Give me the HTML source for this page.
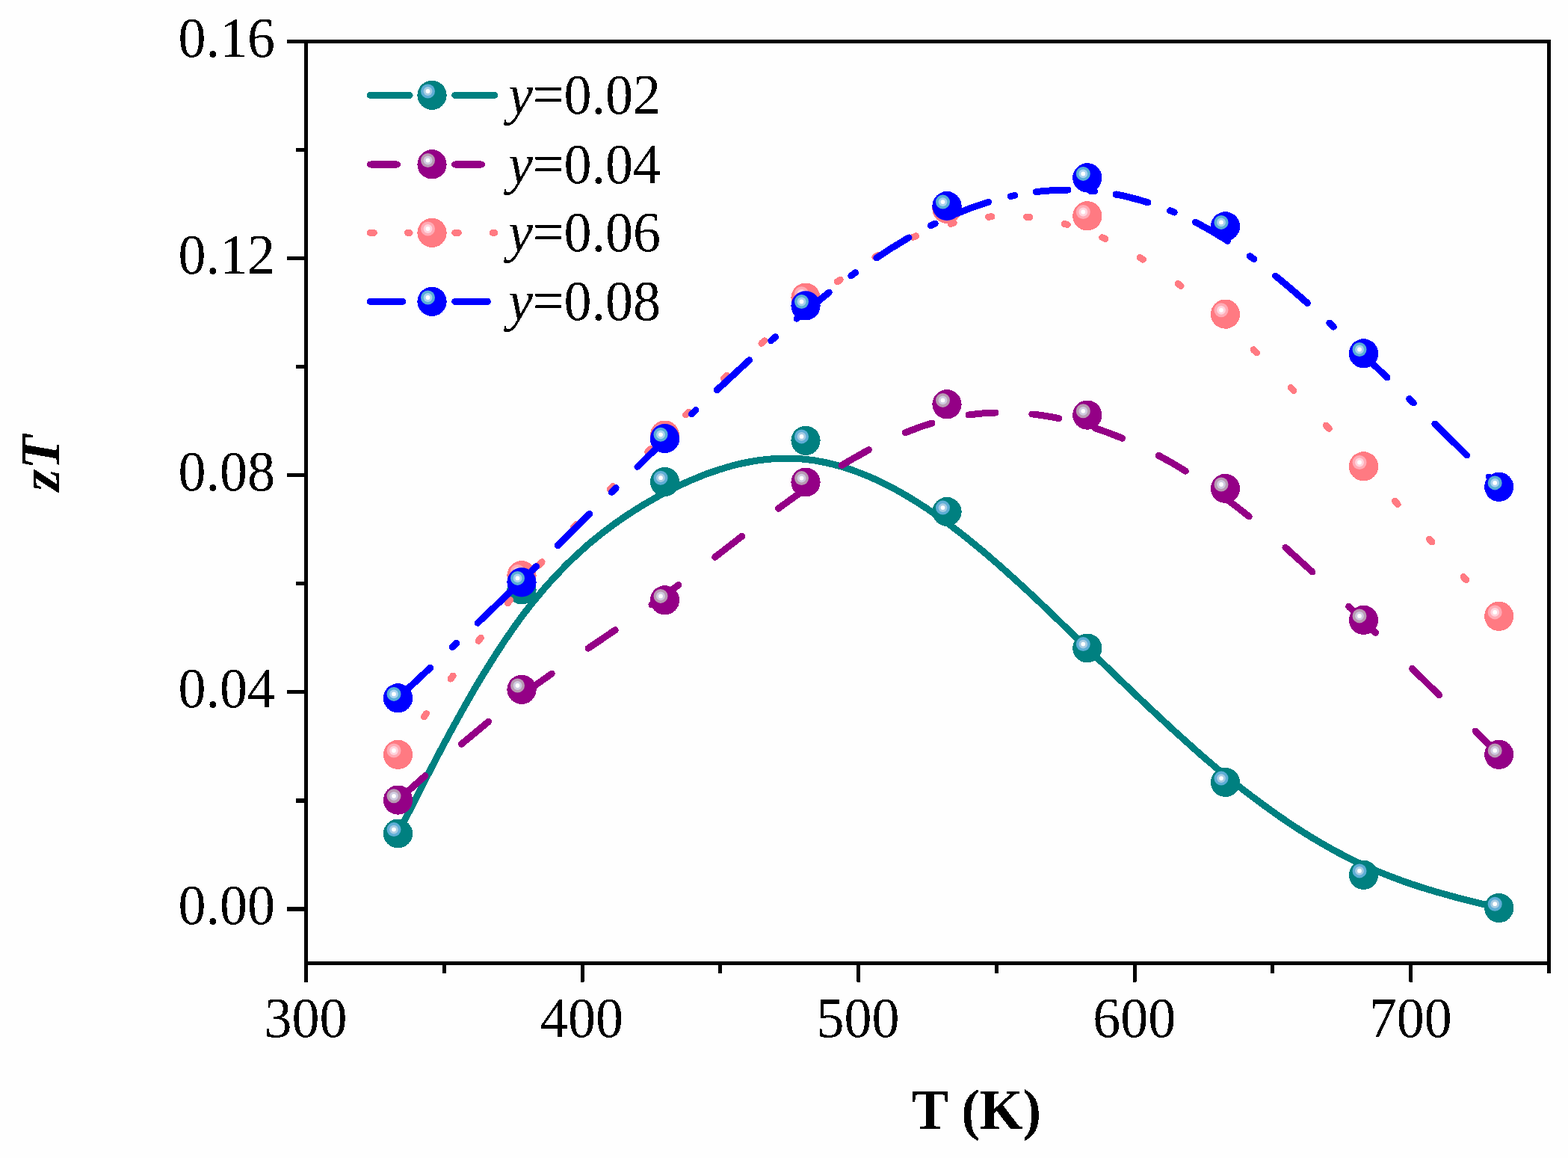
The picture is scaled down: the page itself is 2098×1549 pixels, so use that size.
<!DOCTYPE html>
<html><head><meta charset="utf-8"><title>zT vs T</title>
<style>html,body{margin:0;padding:0;background:#fefefe;overflow:hidden}svg{display:block}</style>
</head><body>
<svg width="2098" height="1549" viewBox="0 0 2098 1549">
<defs><filter id="al" filterUnits="userSpaceOnUse" x="0" y="0" width="2098" height="1549"><feComponentTransfer><feFuncA type="discrete" tableValues="0 1"/></feComponentTransfer></filter></defs>
<rect width="2098" height="1549" fill="#fefefe"/>
<g filter="url(#al)">
<path d="M532.5 1115L577.7 1026.1L591.7 999.3L605.2 974.3L620 947.6L634.2 922.8L648.1 899.6L662 877.5L675.6 856.6L688.7 837.7L701.7 819.9L714.6 803.5L727.9 787.6L741.6 772.3L755.7 757.6L770.2 743.5L787.3 728.1L804.9 713.7L823.2 700L841.8 687.2L861.4 674.9L882 663.1L903.2 652.2L923.8 642.7L943 634.8L962 628.2L980.5 622.7L998.8 618.5L1016.7 615.5L1034.4 613.7L1051.7 613L1060.5 613.2L1069 613.6L1080.6 614.7L1092.2 616.3L1103.9 618.5L1115.8 621.3L1127.8 624.7L1139.8 628.6L1152 633.1L1164.3 638.2L1176.9 643.9L1189.5 650.2L1202.1 656.9L1215 664.4L1228.2 672.5L1241.4 681.1L1254.9 690.4L1268.4 700.2L1290 716.8L1312.6 735.2L1336.4 755.6L1361.7 778.4L1383.3 798.3L1407.6 821.4L1496.4 907.3L1534.4 943.6L1571.8 978.3L1605.4 1008.3L1622.9 1023.3L1640.2 1037.7L1657.1 1051.4L1673.7 1064.3L1690.4 1076.7L1706.7 1088.4L1722.7 1099.5L1738.7 1110L1753.7 1119.4L1768.8 1128.4L1783.5 1136.7L1798.2 1144.5L1812.6 1151.7L1826.9 1158.4L1841.5 1164.8L1856.6 1170.9L1872 1176.7L1888.2 1182.4L1904.5 1187.8L1921.6 1193L1954 1201.9L2005.7 1214.6" fill="none" stroke="#008080" stroke-width="9" stroke-linecap="round" stroke-linejoin="round"/>
<circle cx="532.5" cy="1115" r="19.6" fill="#008080"/><circle cx="527" cy="1109.6" r="9.5" fill="#5eaed6"/><circle cx="527" cy="1109.6" r="5.9" fill="#a8cce3"/><circle cx="527" cy="1109.6" r="2.9" fill="#fff"/>
<circle cx="698" cy="788.8" r="19.6" fill="#008080"/><circle cx="692.5" cy="783.4" r="9.5" fill="#5eaed6"/><circle cx="692.5" cy="783.4" r="5.9" fill="#a8cce3"/><circle cx="692.5" cy="783.4" r="2.9" fill="#fff"/>
<circle cx="889.5" cy="644.6" r="19.6" fill="#008080"/><circle cx="884" cy="639.2" r="9.5" fill="#5eaed6"/><circle cx="884" cy="639.2" r="5.9" fill="#a8cce3"/><circle cx="884" cy="639.2" r="2.9" fill="#fff"/>
<circle cx="1078" cy="589.3" r="19.6" fill="#008080"/><circle cx="1072.5" cy="583.9" r="9.5" fill="#5eaed6"/><circle cx="1072.5" cy="583.9" r="5.9" fill="#a8cce3"/><circle cx="1072.5" cy="583.9" r="2.9" fill="#fff"/>
<circle cx="1267" cy="684.5" r="19.6" fill="#008080"/><circle cx="1261.5" cy="679.1" r="9.5" fill="#5eaed6"/><circle cx="1261.5" cy="679.1" r="5.9" fill="#a8cce3"/><circle cx="1261.5" cy="679.1" r="2.9" fill="#fff"/>
<circle cx="1454.8" cy="867" r="19.6" fill="#008080"/><circle cx="1449.3" cy="861.6" r="9.5" fill="#5eaed6"/><circle cx="1449.3" cy="861.6" r="5.9" fill="#a8cce3"/><circle cx="1449.3" cy="861.6" r="2.9" fill="#fff"/>
<circle cx="1639.5" cy="1046.5" r="19.6" fill="#008080"/><circle cx="1634" cy="1041.1" r="9.5" fill="#5eaed6"/><circle cx="1634" cy="1041.1" r="5.9" fill="#a8cce3"/><circle cx="1634" cy="1041.1" r="2.9" fill="#fff"/>
<circle cx="1824.5" cy="1170.3" r="19.6" fill="#008080"/><circle cx="1819" cy="1164.9" r="9.5" fill="#5eaed6"/><circle cx="1819" cy="1164.9" r="5.9" fill="#a8cce3"/><circle cx="1819" cy="1164.9" r="2.9" fill="#fff"/>
<circle cx="2005.7" cy="1214.6" r="19.6" fill="#008080"/><circle cx="2000.2" cy="1209.2" r="9.5" fill="#5eaed6"/><circle cx="2000.2" cy="1209.2" r="5.9" fill="#a8cce3"/><circle cx="2000.2" cy="1209.2" r="2.9" fill="#fff"/>
<path d="M532.5 1070.2L568.8 1037.8M617.5 995.3L653.6 965.2M702.3 927.1L719.4 914.5L738.2 901.1M787 867.3L823.2 842.7M871.9 808.8L908 782.4M956.6 745.2L992.8 717.2M1041.6 680.2L1060.2 666.6L1077.5 654.4M1126.2 622.5L1144.5 611.7L1162.4 601.7M1211.2 578.7L1229.4 571.7L1247 565.9M1296 555L1313.9 553L1332 551.9M1380.8 553.9L1398.6 556.3L1416.7 559.6M1465.5 572.7L1483.4 579L1501.7 586.2M1550.2 609.3L1568.1 619.2L1586.3 630.1M1634.9 662.9L1652.8 676.4L1671.3 691M1719.9 732.3L1755.9 765M1804.6 811.3L1840.6 846.3M1889.6 894.3L1925.7 929.9M1974.1 977.9L2005.7 1009.3" fill="none" stroke="#940086" stroke-width="9" stroke-linecap="round" stroke-linejoin="round"/>
<circle cx="532.5" cy="1070.2" r="19.6" fill="#940086"/><circle cx="527" cy="1064.8" r="9.5" fill="#b89bb3"/><circle cx="527" cy="1064.8" r="5.9" fill="#cfcce0"/><circle cx="527" cy="1064.8" r="2.9" fill="#fff"/>
<circle cx="698" cy="922.4" r="19.6" fill="#940086"/><circle cx="692.5" cy="917" r="9.5" fill="#b89bb3"/><circle cx="692.5" cy="917" r="5.9" fill="#cfcce0"/><circle cx="692.5" cy="917" r="2.9" fill="#fff"/>
<circle cx="889.5" cy="802.8" r="19.6" fill="#940086"/><circle cx="884" cy="797.4" r="9.5" fill="#b89bb3"/><circle cx="884" cy="797.4" r="5.9" fill="#cfcce0"/><circle cx="884" cy="797.4" r="2.9" fill="#fff"/>
<circle cx="1078" cy="645" r="19.6" fill="#940086"/><circle cx="1072.5" cy="639.6" r="9.5" fill="#b89bb3"/><circle cx="1072.5" cy="639.6" r="5.9" fill="#cfcce0"/><circle cx="1072.5" cy="639.6" r="2.9" fill="#fff"/>
<circle cx="1267" cy="540.8" r="19.6" fill="#940086"/><circle cx="1261.5" cy="535.4" r="9.5" fill="#b89bb3"/><circle cx="1261.5" cy="535.4" r="5.9" fill="#cfcce0"/><circle cx="1261.5" cy="535.4" r="2.9" fill="#fff"/>
<circle cx="1454.8" cy="555.2" r="19.6" fill="#940086"/><circle cx="1449.3" cy="549.8" r="9.5" fill="#b89bb3"/><circle cx="1449.3" cy="549.8" r="5.9" fill="#cfcce0"/><circle cx="1449.3" cy="549.8" r="2.9" fill="#fff"/>
<circle cx="1639.5" cy="653.4" r="19.6" fill="#940086"/><circle cx="1634" cy="648" r="9.5" fill="#b89bb3"/><circle cx="1634" cy="648" r="5.9" fill="#cfcce0"/><circle cx="1634" cy="648" r="2.9" fill="#fff"/>
<circle cx="1824.5" cy="829.3" r="19.6" fill="#940086"/><circle cx="1819" cy="823.9" r="9.5" fill="#b89bb3"/><circle cx="1819" cy="823.9" r="5.9" fill="#cfcce0"/><circle cx="1819" cy="823.9" r="2.9" fill="#fff"/>
<circle cx="2005.7" cy="1009.3" r="19.6" fill="#940086"/><circle cx="2000.2" cy="1003.9" r="9.5" fill="#b89bb3"/><circle cx="2000.2" cy="1003.9" r="5.9" fill="#cfcce0"/><circle cx="2000.2" cy="1003.9" r="2.9" fill="#fff"/>
<path d="M532.5 1009.4L535.6 1004.9M567.5 958.7L570.5 954.4M603.1 908L606.1 903.9M640.3 857.2L643.3 853.3M679.4 806.6L682.6 802.6M721.5 756L725.1 751.8M767.4 705.2L771.2 701.3M816.2 654.7L820.3 650.6M866.8 604.5L870.9 600.5M917.5 555L921.6 551M968.3 506.1L972.4 502.3M1018.9 459.4L1023 455.7M1069.6 415.9L1073.7 412.6M1120.2 377L1124.3 374.1M1170.9 343.8L1175 341.4M1221.6 317.4L1225.6 315.7M1272.1 299.3L1276.2 298.2M1322.6 290.2L1327 289.8M1373.3 290.2L1377.7 290.6M1424.1 299.4L1428.2 300.5M1474.8 317.7L1478.8 319.5M1525.2 344.5L1529.5 347.2M1576.1 379.4L1580.1 382.4M1626.6 420.7L1630.9 424.5M1677.1 467.7L1681.4 471.9M1727 518.3L1731 522.5M1774.3 568.9L1778.3 573.3M1820.5 619.6L1824.2 623.7M1866.4 670.3L1870.2 674.5M1912.3 721L1916 725.1M1958 771.6L1961.9 775.8M2003.7 822.1L2005.7 824.3" fill="none" stroke="#ff7a82" stroke-width="9" stroke-linecap="round" stroke-linejoin="round"/>
<circle cx="532.5" cy="1009.4" r="19.6" fill="#ff7a82"/><circle cx="527" cy="1004" r="9.5" fill="#ffabb5"/><circle cx="527" cy="1004" r="5.9" fill="#ffd5de"/><circle cx="527" cy="1004" r="2.9" fill="#fff"/>
<circle cx="698" cy="769.8" r="19.6" fill="#ff7a82"/><circle cx="692.5" cy="764.4" r="9.5" fill="#ffabb5"/><circle cx="692.5" cy="764.4" r="5.9" fill="#ffd5de"/><circle cx="692.5" cy="764.4" r="2.9" fill="#fff"/>
<circle cx="889.5" cy="582.2" r="19.6" fill="#ff7a82"/><circle cx="884" cy="576.8" r="9.5" fill="#ffabb5"/><circle cx="884" cy="576.8" r="5.9" fill="#ffd5de"/><circle cx="884" cy="576.8" r="2.9" fill="#fff"/>
<circle cx="1078" cy="398.2" r="19.6" fill="#ff7a82"/><circle cx="1072.5" cy="392.8" r="9.5" fill="#ffabb5"/><circle cx="1072.5" cy="392.8" r="5.9" fill="#ffd5de"/><circle cx="1072.5" cy="392.8" r="2.9" fill="#fff"/>
<circle cx="1267" cy="279.4" r="19.6" fill="#ff7a82"/><circle cx="1261.5" cy="274" r="9.5" fill="#ffabb5"/><circle cx="1261.5" cy="274" r="5.9" fill="#ffd5de"/><circle cx="1261.5" cy="274" r="2.9" fill="#fff"/>
<circle cx="1454.8" cy="288.9" r="19.6" fill="#ff7a82"/><circle cx="1449.3" cy="283.5" r="9.5" fill="#ffabb5"/><circle cx="1449.3" cy="283.5" r="5.9" fill="#ffd5de"/><circle cx="1449.3" cy="283.5" r="2.9" fill="#fff"/>
<circle cx="1639.5" cy="420.2" r="19.6" fill="#ff7a82"/><circle cx="1634" cy="414.8" r="9.5" fill="#ffabb5"/><circle cx="1634" cy="414.8" r="5.9" fill="#ffd5de"/><circle cx="1634" cy="414.8" r="2.9" fill="#fff"/>
<circle cx="1824.5" cy="623.9" r="19.6" fill="#ff7a82"/><circle cx="1819" cy="618.5" r="9.5" fill="#ffabb5"/><circle cx="1819" cy="618.5" r="5.9" fill="#ffd5de"/><circle cx="1819" cy="618.5" r="2.9" fill="#fff"/>
<circle cx="2005.7" cy="824.3" r="19.6" fill="#ff7a82"/><circle cx="2000.2" cy="818.9" r="9.5" fill="#ffabb5"/><circle cx="2000.2" cy="818.9" r="5.9" fill="#ffd5de"/><circle cx="2000.2" cy="818.9" r="2.9" fill="#fff"/>
<path d="M532.5 933.8L575.7 893.3M605.2 865.6L610.8 860.3M639.2 833.3L682.3 792M711.9 763.3L717.6 757.7M746.2 729.7L788.9 687.5M818.4 658.4L824.1 652.8M852.9 624.4L895.6 582.6M925.4 553.9L931 548.5M959.4 521.6L1002.6 481.8M1031.8 455.7L1037.5 450.7M1066.1 426.2L1088.2 408.1L1109.2 391.3M1138.8 368.8L1144.5 364.7M1172.8 344.9L1194.5 330.8L1215.9 317.9M1245.4 301.7L1251.1 298.9M1279.7 285.8L1301.3 277.4L1322.6 270.3M1352.1 262.6L1357.7 261.4M1386.1 256.7L1397 255.5L1407.6 254.7L1418.5 254.2L1429.1 254M1458.6 255.3L1464.5 255.8M1493 260L1503.9 262.2L1514.7 264.8L1525.5 267.7L1536 270.9M1565.6 281.7L1571.1 284M1599.5 297.3L1610.3 303L1621.1 309.1L1631.8 315.5L1642.6 322.3M1672.2 342.6L1677.8 346.7M1706.4 368.9L1727.3 386.3L1749.4 405.5M1778.9 432.1L1784.4 437.2M1813.2 464.1L1856 505M1885.6 533.6L1891.3 539.1M1919.8 567L1962.8 609.1M1992.1 637.9L1998.1 643.8" fill="none" stroke="#0000ff" stroke-width="9" stroke-linecap="round" stroke-linejoin="round"/>
<circle cx="532.5" cy="933.8" r="19.6" fill="#0000ff"/><circle cx="527" cy="928.4" r="9.5" fill="#5aaed6"/><circle cx="527" cy="928.4" r="5.9" fill="#aad2ef"/><circle cx="527" cy="928.4" r="2.9" fill="#fff"/>
<circle cx="698" cy="778.8" r="19.6" fill="#0000ff"/><circle cx="692.5" cy="773.4" r="9.5" fill="#5aaed6"/><circle cx="692.5" cy="773.4" r="5.9" fill="#aad2ef"/><circle cx="692.5" cy="773.4" r="2.9" fill="#fff"/>
<circle cx="889.5" cy="586.7" r="19.6" fill="#0000ff"/><circle cx="884" cy="581.3" r="9.5" fill="#5aaed6"/><circle cx="884" cy="581.3" r="5.9" fill="#aad2ef"/><circle cx="884" cy="581.3" r="2.9" fill="#fff"/>
<circle cx="1078" cy="408.9" r="19.6" fill="#0000ff"/><circle cx="1072.5" cy="403.5" r="9.5" fill="#5aaed6"/><circle cx="1072.5" cy="403.5" r="5.9" fill="#aad2ef"/><circle cx="1072.5" cy="403.5" r="2.9" fill="#fff"/>
<circle cx="1267" cy="275.5" r="19.6" fill="#0000ff"/><circle cx="1261.5" cy="270.1" r="9.5" fill="#5aaed6"/><circle cx="1261.5" cy="270.1" r="5.9" fill="#aad2ef"/><circle cx="1261.5" cy="270.1" r="2.9" fill="#fff"/>
<circle cx="1454.8" cy="237.8" r="19.6" fill="#0000ff"/><circle cx="1449.3" cy="232.4" r="9.5" fill="#5aaed6"/><circle cx="1449.3" cy="232.4" r="5.9" fill="#aad2ef"/><circle cx="1449.3" cy="232.4" r="2.9" fill="#fff"/>
<circle cx="1639.5" cy="302.8" r="19.6" fill="#0000ff"/><circle cx="1634" cy="297.4" r="9.5" fill="#5aaed6"/><circle cx="1634" cy="297.4" r="5.9" fill="#aad2ef"/><circle cx="1634" cy="297.4" r="2.9" fill="#fff"/>
<circle cx="1824.5" cy="472.9" r="19.6" fill="#0000ff"/><circle cx="1819" cy="467.5" r="9.5" fill="#5aaed6"/><circle cx="1819" cy="467.5" r="5.9" fill="#aad2ef"/><circle cx="1819" cy="467.5" r="2.9" fill="#fff"/>
<circle cx="2005.7" cy="651.3" r="19.6" fill="#0000ff"/><circle cx="2000.2" cy="645.9" r="9.5" fill="#5aaed6"/><circle cx="2000.2" cy="645.9" r="5.9" fill="#aad2ef"/><circle cx="2000.2" cy="645.9" r="2.9" fill="#fff"/>
<rect x="409.5" y="55.5" width="1663.0" height="1233.0" fill="none" stroke="#000" stroke-width="5"/>
<path d="M384 1215.9H409.5M396 1070.9H409.5M384 925.8H409.5M396 780.8H409.5M384 635.7H409.5M396 490.7H409.5M384 345.6H409.5M396 200.5H409.5M384 55.5H409.5M409.5 1288.5V1313.5M594.3 1288.5V1302M779.1 1288.5V1313.5M963.8 1288.5V1302M1148.6 1288.5V1313.5M1333.4 1288.5V1302M1518.2 1288.5V1313.5M1702.9 1288.5V1302M1887.7 1288.5V1313.5M2072.5 1288.5V1302" stroke="#000" stroke-width="5" fill="none"/>
<g font-family="Liberation Serif, serif" font-size="74" fill="#000"><text transform="translate(368 1236.4) scale(1 1.015)" text-anchor="end">0.00</text><text transform="translate(368 946.3) scale(1 1.015)" text-anchor="end">0.04</text><text transform="translate(368 656.2) scale(1 1.015)" text-anchor="end">0.08</text><text transform="translate(368 366.1) scale(1 1.015)" text-anchor="end">0.12</text><text transform="translate(368 76) scale(1 1.015)" text-anchor="end">0.16</text><text transform="translate(409 1386.7) scale(1 1.04)" text-anchor="middle">300</text><text transform="translate(778.6 1386.7) scale(1 1.04)" text-anchor="middle">400</text><text transform="translate(1148.1 1386.7) scale(1 1.04)" text-anchor="middle">500</text><text transform="translate(1517.7 1386.7) scale(1 1.04)" text-anchor="middle">600</text><text transform="translate(1887.2 1386.7) scale(1 1.04)" text-anchor="middle">700</text></g>
<text transform="translate(1219.7 1509.8) scale(1 1.02)" font-family="Liberation Serif, serif" font-size="74" font-weight="bold">T (K)</text>
<text transform="translate(79 657) rotate(-90)" font-family="Liberation Serif, serif" font-size="75" font-weight="bold" font-style="italic">zT</text>
<path d="M495.3 127.4H548.1M608.6 127.4H661.6" stroke="#008080" stroke-width="9" stroke-linecap="round" fill="none"/>
<circle cx="578" cy="127.4" r="19.6" fill="#008080"/><circle cx="572.5" cy="122" r="9.5" fill="#5eaed6"/><circle cx="572.5" cy="122" r="5.9" fill="#a8cce3"/><circle cx="572.5" cy="122" r="2.9" fill="#fff"/>
<text transform="translate(680 152) scale(1 1.02)" font-family="Liberation Serif, serif" font-size="74"><tspan font-style="italic">y</tspan>=0.02</text>
<path d="M495.3 219.9H531.4M608.6 219.9H644.4" stroke="#940086" stroke-width="9" stroke-linecap="round" fill="none"/>
<circle cx="578" cy="219.9" r="19.6" fill="#940086"/><circle cx="572.5" cy="214.5" r="9.5" fill="#b89bb3"/><circle cx="572.5" cy="214.5" r="5.9" fill="#cfcce0"/><circle cx="572.5" cy="214.5" r="2.9" fill="#fff"/>
<text transform="translate(680 244.5) scale(1 1.02)" font-family="Liberation Serif, serif" font-size="74"><tspan font-style="italic">y</tspan>=0.04</text>
<path d="M495.3 311.4H500.3M545.5 311.4H548.1M608.6 311.4H613.3M659.4 311.4H661.6" stroke="#ff7a82" stroke-width="9" stroke-linecap="round" fill="none"/>
<circle cx="578" cy="311.4" r="19.6" fill="#ff7a82"/><circle cx="572.5" cy="306" r="9.5" fill="#ffabb5"/><circle cx="572.5" cy="306" r="5.9" fill="#ffd5de"/><circle cx="572.5" cy="306" r="2.9" fill="#fff"/>
<text transform="translate(680 336) scale(1 1.02)" font-family="Liberation Serif, serif" font-size="74"><tspan font-style="italic">y</tspan>=0.06</text>
<path d="M495.3 403.4H538.7M608.6 403.4H652.5" stroke="#0000ff" stroke-width="9" stroke-linecap="round" fill="none"/>
<circle cx="578" cy="403.4" r="19.6" fill="#0000ff"/><circle cx="572.5" cy="398" r="9.5" fill="#5aaed6"/><circle cx="572.5" cy="398" r="5.9" fill="#aad2ef"/><circle cx="572.5" cy="398" r="2.9" fill="#fff"/>
<text transform="translate(680 428) scale(1 1.02)" font-family="Liberation Serif, serif" font-size="74"><tspan font-style="italic">y</tspan>=0.08</text>
</g>
</svg>
</body></html>
